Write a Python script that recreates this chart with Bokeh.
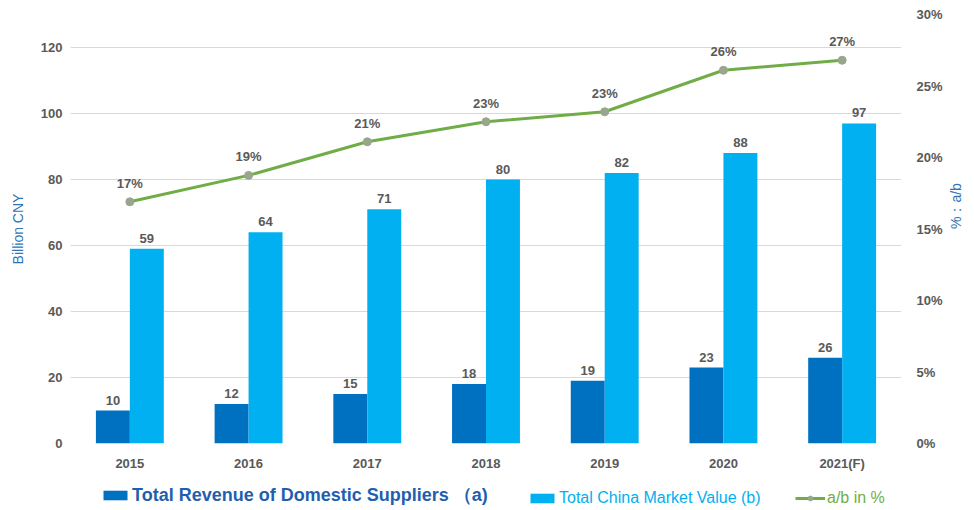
import math
from bokeh.plotting import figure
from bokeh.layouts import column
from bokeh.models import (FactorRange, Range1d, LinearAxis, FixedTicker, PrintfTickFormatter,
                          Legend, LegendItem, ColumnDataSource)
from bokeh.transform import dodge
from bokeh.core.properties import value
from bokeh.embed import file_html
from bokeh.resources import INLINE

# Revenue of domestic suppliers vs. total China market (billion CNY) and their ratio
years = ["2015", "2016", "2017", "2018", "2019", "2020", "2021(F)"]
domestic_revenue = [10, 12, 15, 18, 19, 23, 26]
market_value = [59, 64, 71, 80, 82, 88, 97]
share_pct = [16.9, 18.75, 21.1, 22.5, 23.2, 26.1, 26.8]
left_ticks = [0, 20, 40, 60, 80, 100, 120]
right_ticks = [0, 5, 10, 15, 20, 25, 30]

FONT = "Liberation Sans"
GREY = "#595959"
DARK = "#0070C0"
LIGHT = "#00B0F0"
GREEN = "#70AD47"
MARKER = "#9AA58E"
AXIS_BLUE = "#2E75B6"

src = ColumnDataSource(dict(
    year=years,
    a=domestic_revenue,
    b=market_value,
    pct=share_pct,
    a_lbl=[str(v) for v in domestic_revenue],
    b_lbl=[str(v) for v in market_value],
    pct_lbl=[f"{int(math.floor(v + 0.5))}%" for v in share_pct],
))

p = figure(width=974, height=473, x_range=FactorRange(*years, range_padding=0),
           y_range=Range1d(0, 130), output_backend="svg", toolbar_location=None,
           min_border_left=70, min_border_right=71, min_border_top=14, min_border_bottom=27)
p.outline_line_color = None
p.extra_y_ranges = {"pct": Range1d(0, 30)}

# Bars
bw = 0.286
p.vbar(x=dodge("year", -bw / 2, range=p.x_range), top="a", width=bw, source=src,
       fill_color=DARK, line_color=None)
p.vbar(x=dodge("year", bw / 2, range=p.x_range), top="b", width=bw, source=src,
       fill_color=LIGHT, line_color=None)

# Ratio line on the secondary axis
p.line(x="year", y="pct", source=src, y_range_name="pct", line_color=GREEN, line_width=3)
p.scatter(x="year", y="pct", source=src, y_range_name="pct", size=8,
          fill_color=MARKER, line_color=MARKER)

# Value labels
lbl = dict(text_font=value(FONT), text_font_style="bold", text_font_size="13px",
           text_color=GREY, text_align="center", text_baseline="bottom")
p.text(x=dodge("year", -bw / 2, range=p.x_range), y="a", text="a_lbl", source=src,
       y_offset=-6, **lbl)
p.text(x=dodge("year", bw / 2, range=p.x_range), y="b", text="b_lbl", source=src,
       y_offset=-6, **lbl)
p.text(x="year", y="pct", text="pct_lbl", source=src, y_range_name="pct",
       y_offset=-11, **lbl)

# Axes
p.xgrid.grid_line_color = None
p.ygrid.grid_line_color = "#D9D9D9"
p.ygrid.ticker = FixedTicker(ticks=left_ticks)

def style_axis(ax, standoff):
    ax.axis_line_color = None
    ax.major_tick_line_color = None
    ax.minor_tick_line_color = None
    ax.major_tick_out = 0
    ax.major_tick_in = 0
    ax.minor_tick_out = 0
    ax.major_label_standoff = standoff
    ax.major_label_text_font = FONT
    ax.major_label_text_font_style = "bold"
    ax.major_label_text_font_size = "13px"
    ax.major_label_text_color = GREY
    ax.axis_label_text_font = FONT
    ax.axis_label_text_font_style = "normal"
    ax.axis_label_text_font_size = "14px"
    ax.axis_label_text_color = AXIS_BLUE

style_axis(p.xaxis[0], 12)

ya = p.yaxis[0]
ya.ticker = FixedTicker(ticks=left_ticks)
style_axis(ya, 8)
ya.axis_label = "Billion CNY"
ya.axis_label_standoff = 12

ra = LinearAxis(y_range_name="pct", ticker=FixedTicker(ticks=right_ticks),
                formatter=PrintfTickFormatter(format="%d%%"))
style_axis(ra, 15)
ra.axis_label = "%：a/b"
ra.axis_label_orientation = math.pi / 2
ra.axis_label_standoff = 10
p.add_layout(ra, "right")

# Legend strip beneath the chart; each entry keeps its own text style
leg = figure(width=974, height=37, x_range=Range1d(0, 1), y_range=Range1d(0, 1),
             x_axis_type=None, y_axis_type=None, output_backend="svg", toolbar_location=None,
             min_border_left=0, min_border_right=0, min_border_top=0, min_border_bottom=0)
leg.outline_line_color = None
leg.grid.visible = False

# swatch renderers hold no visible point, they only supply the legend glyphs
swatch = ColumnDataSource(dict(x=[float("nan")], y=[float("nan")]))
g_a = leg.vbar(x="x", top="y", width=0.1, source=swatch, fill_color=DARK, line_color=None)
g_b = leg.vbar(x="x", top="y", width=0.1, source=swatch, fill_color=LIGHT, line_color=None)
g_l = leg.line(x="x", y="y", source=swatch, line_color=GREEN, line_width=3)
g_m = leg.scatter(x="x", y="y", source=swatch, size=7, fill_color=MARKER, line_color=MARKER)

def add_legend(label, renderers, x, color, style, size):
    lg = Legend(items=[LegendItem(label=label, renderers=renderers)], location=(x, 3),
                orientation="horizontal", background_fill_alpha=0, border_line_alpha=0,
                padding=0, margin=0, spacing=0, glyph_width=30, glyph_height=12,
                label_standoff=2, label_text_font=FONT, label_text_font_style=style,
                label_text_font_size=size, label_text_color=color)
    leg.add_layout(lg, "center")

add_legend("Total Revenue of Domestic Suppliers （a)", [g_a], 30, "#1F5FAD", "bold", "18px")
add_legend("Total China Market Value (b)", [g_b], 457, LIGHT, "normal", "16px")
add_legend("a/b in %", [g_l, g_m], 725, GREEN, "normal", "16px")

open("out.html", "w").write(file_html(column(p, leg, spacing=0), INLINE))
